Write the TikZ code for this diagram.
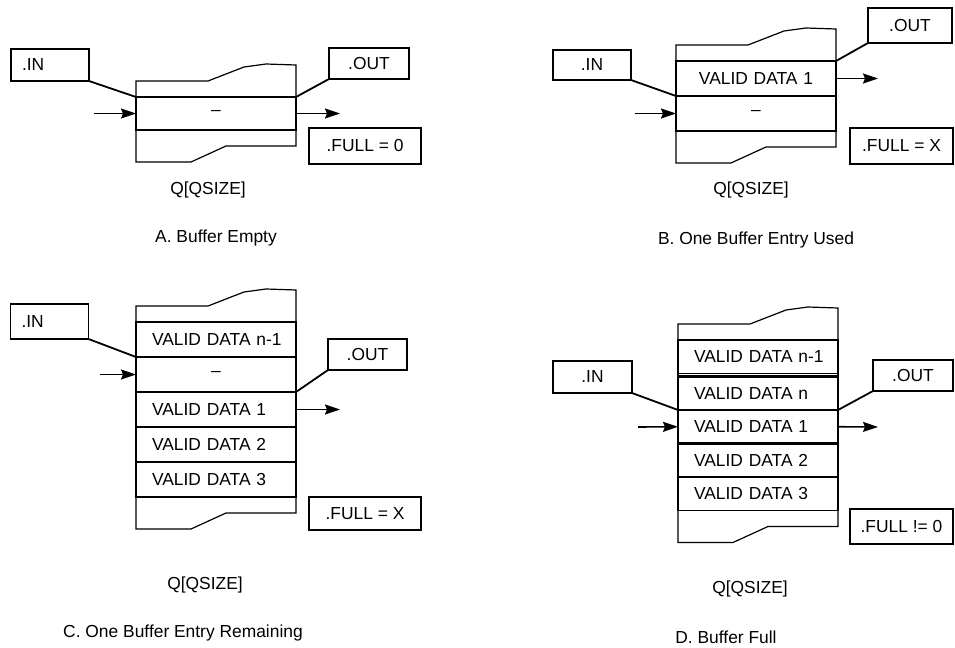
\documentclass[tikz,border=0pt]{standalone}
\usepackage{fontspec}
\setmainfont{Liberation Sans}
\usetikzlibrary{arrows.meta,positioning}

\newcommand{\lbfont}{\fontsize{8.7pt}{11pt}\selectfont}
% jagged ends of the queue
\newcommand{\qtop}[1]{\draw[qln] (#1.north west) -- ++(0,-16) -- ++(72,0) -- ++(36,-14) -- ++(22,-3) -- ++(30,1) -- (#1.north east);}
\newcommand{\qbot}[1]{\draw[qln] (#1.south west) -- ++(0,32) -- ++(55,0) -- ++(35,-16) -- ++(70,0) -- (#1.south east);}

\begin{document}
\begin{tikzpicture}[x=0.5pt,y=-0.5pt,
    cell/.style={draw,line width=0.6pt,minimum width=80pt,minimum height=17.5pt,text width=64pt,inner xsep=8pt,inner ysep=0pt,outer sep=0pt,align=left,font=\lbfont},
    ctr/.style={align=center},
    lbl/.style={draw,line width=0.9pt,minimum width=39pt,minimum height=16pt,inner sep=0pt,outer sep=0pt,font=\lbfont},
    lft/.style={text width=28pt,align=left,inner xsep=5.5pt},
    flag/.style={lbl,minimum width=56pt,minimum height=17.5pt},
    qcap/.style={font=\lbfont},
    qln/.style={line width=0.6pt},
    thk/.style={line width=1.4pt},
    lnk/.style={line width=0.9pt},
    arr/.style={-{Stealth[length=7.5pt,width=5pt,inset=1pt]},line width=0.8pt}
]
\useasboundingbox (0,0) rectangle (955,648);

% A. Buffer Empty
\node[cell,ctr,minimum height=16.5pt] (a1) at (216,113.5) {--};
\draw[thk] (a1.north west) rectangle (a1.south east);
\qtop{a1}
\qbot{a1}
\node[lbl,lft] (inA) at (50,65) {.IN};
\node[lbl,minimum width=40pt,minimum height=15.5pt] (outA) at (369,63.5) {.OUT};
\node[flag,minimum height=18pt] (fullA) at (365,146) {.FULL = 0};
\draw[lnk] (inA.south east) -- (a1.north west);
\draw[lnk] (outA.south west) -- (a1.north east);
\coordinate (srcA) at (94,113.5);
\coordinate (dstA) at (340,113.5);
\draw[arr] (srcA) -- (a1.west);
\draw[arr] (a1.east) -- (dstA);
\node[qcap] (qA) at (208,190) {Q[QSIZE]};
\node[qcap] (tA) at (216,238) {A. Buffer Empty};

% B. One Buffer Entry Used
\node[cell,ctr] (b1) at (756,78.5) {VALID DATA 1};
\node[cell,ctr,below=0pt of b1] (b2) {--};
\draw[thk] (b1.north west) rectangle (b2.south east);
\draw[thk] (b1.south west) -- (b1.south east);
\qtop{b1}
\qbot{b2}
\node[lbl,minimum height=15pt] (inB) at (592,65) {.IN};
\node[lbl,minimum width=42pt,minimum height=17.5pt] (outB) at (910,25.5) {.OUT};
\node[flag,minimum width=51.5pt,minimum height=18pt] (fullB) at (901.5,146) {.FULL = X};
\draw[lnk] (inB.south east) -- (b2.north west);
\draw[lnk] (outB.south west) -- (b1.north east);
\coordinate (srcB) at (635,113.5);
\coordinate (dstB) at (878,78.5);
\draw[arr] (srcB) -- (b2.west);
\draw[arr] (b1.east) -- (dstB);
\node[qcap] (qB) at (751,190) {Q[QSIZE]};
\node[qcap] (tB) at (756,240) {B. One Buffer Entry Used};

% C. One Buffer Entry Remaining
\node[cell] (c0) at (216,339.5) {\mbox{VALID DATA n-1}};
\node[cell,ctr,below=0pt of c0] (c1) {--};
\node[cell,below=0pt of c1] (c2) {VALID DATA 1};
\node[cell,below=0pt of c2] (c3) {VALID DATA 2};
\node[cell,below=0pt of c3] (c4) {VALID DATA 3};
\draw[thk] (c1.north west) rectangle (c2.south east);
\draw[thk] (c1.south west) -- (c1.south east);
\draw[thk] (c3.south west) -- (c3.south east);
\qtop{c0}
\qbot{c4}
\node[lbl,lft,minimum height=17.5pt] (inC) at (49.5,321.5) {.IN};
\node[lbl,minimum width=39.5pt,minimum height=15.5pt] (outC) at (367.5,354.5) {.OUT};
\node[flag,minimum height=16.5pt] (fullC) at (365,513.5) {.FULL = X};
\draw[lnk] (inC.south east) -- (c1.north west);
\draw[lnk] (outC.south west) -- (c1.south east);
\coordinate (srcC) at (100,374.5);
\coordinate (dstC) at (340,409.5);
\draw[arr] (srcC) -- (c1.west);
\draw[arr] (c2.east) -- (dstC);
\node[qcap] (qC) at (205,585) {Q[QSIZE]};
\node[qcap] (tC) at (183,633) {C. One Buffer Entry Remaining};

% D. Buffer Full
\node[cell,minimum height=16.75pt] (d0) at (758,356.75) {\mbox{VALID DATA n-1}};
\node[cell,minimum height=16.75pt,below=1.5pt of d0] (d1) {VALID DATA n};
\node[cell,minimum height=16.75pt,below=0pt of d1] (d2) {VALID DATA 1};
\node[cell,minimum height=16.75pt,below=0pt of d2] (d3) {VALID DATA 2};
\node[cell,minimum height=16.75pt,below=0pt of d3] (d4) {VALID DATA 3};
\draw[qln] (d0.south west) -- (d1.north west) (d0.south east) -- (d1.north east);
\draw[thk] (d1.north west) rectangle (d2.south east);
\draw[thk] (d1.south west) -- (d1.south east);
\qtop{d0}
\qbot{d4}
\node[lbl,minimum width=39.5pt] (inD) at (592.5,377) {.IN};
\node[lbl,minimum width=40pt,minimum height=15.5pt] (outD) at (913,375.5) {.OUT};
\node[flag,minimum width=51.5pt] (fullD) at (901.5,526.5) {.FULL != 0};
\draw[lnk] (inD.south east) -- (d2.north west);
\draw[lnk] (outD.south west) -- (d1.south east);
\coordinate (srcD) at (638,427);
\coordinate (dstD) at (878,427);
\draw[arr] (srcD) -- (d2.west);
\draw[arr] (d2.east) -- (dstD);
\node[qcap] (qD) at (750,589) {Q[QSIZE]};
\node[qcap] (tD) at (726,637) {D. Buffer Full};
\end{tikzpicture}
\end{document}
